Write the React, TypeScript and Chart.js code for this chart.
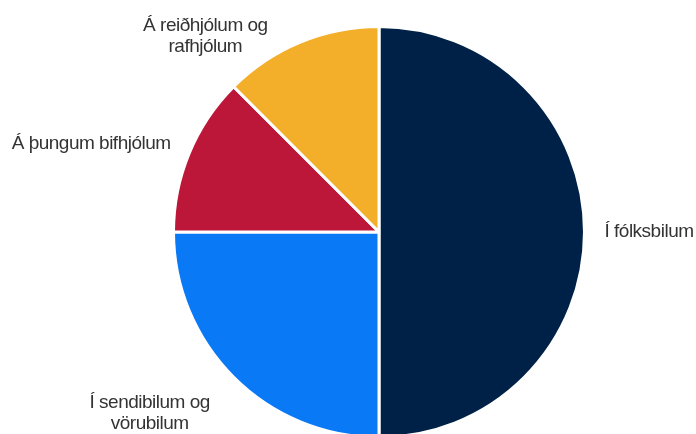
import React, { useEffect, useRef } from "react";
import { Chart, registerables } from "chart.js";

Chart.register(...registerables);

const categories: string[][] = [
  ["Í fólksbilum"],
  ["Í sendibilum og", "vörubilum"],
  ["Á þungum bifhjólum"],
  ["Á reiðhjólum og", "rafhjólum"],
];
const values: number[] = [50, 25, 12.5, 12.5];
const colors: string[] = ["#002147", "#0A79F6", "#BC1639", "#F3AF29"];

// label layout: offset of text anchor from the slice's outer mid-point, alignment
const labelLayout = [
  { dx: 20, dy: 5, align: "left" as CanvasTextAlign },
  { dx: -84, dy: 31, align: "center" as CanvasTextAlign },
  { dx: -98, dy: -4, align: "center" as CanvasTextAlign },
  { dx: -95, dy: -11, align: "center" as CanvasTextAlign },
];
const LINE_HEIGHT = 21;

const outsideLabels = {
  id: "outsideLabels",
  afterDatasetsDraw(chart: any) {
    const meta = chart.getDatasetMeta(0);
    const ctx: any = chart.ctx;
    ctx.save();
    ctx.font = "19px 'Liberation Sans', Arial, sans-serif";
    ctx.letterSpacing = "-0.5px";
    ctx.fillStyle = "#333333";
    ctx.textBaseline = "alphabetic";
    meta.data.forEach((arc: any, i: number) => {
      const p = arc.getProps(["x", "y", "startAngle", "endAngle", "outerRadius"], true);
      const mid = (p.startAngle + p.endAngle) / 2;
      const ox = p.x + Math.cos(mid) * p.outerRadius;
      const oy = p.y + Math.sin(mid) * p.outerRadius;
      const lay = labelLayout[i];
      ctx.textAlign = lay.align;
      categories[i].forEach((line, j) => {
        ctx.fillText(line, ox + lay.dx, oy + lay.dy + j * LINE_HEIGHT);
      });
    });
    ctx.restore();
  },
};

export default function App() {
  const ref = useRef<HTMLCanvasElement | null>(null);
  useEffect(() => {
    document.body.style.margin = "0";
    const chart = new Chart(ref.current as HTMLCanvasElement, {
      type: "pie",
      data: {
        labels: categories.map((c) => c.join(" ")),
        datasets: [
          {
            data: values,
            backgroundColor: colors,
            borderColor: "#ffffff",
            borderWidth: 3,
          },
        ],
      },
      options: {
        responsive: false,
        animation: false,
        layout: { padding: { left: 172, right: 110, top: 25, bottom: 1 } },
        plugins: {
          legend: { display: false },
          tooltip: { enabled: false },
        },
      },
      plugins: [outsideLabels],
    });
    return () => chart.destroy();
  }, []);
  return (
    <div style={{ position: "fixed", left: 0, top: 0, width: 696, height: 434, overflow: "hidden", background: "#fff" }}>
      <canvas ref={ref} width={696} height={440} style={{ display: "block" }} />
    </div>
  );
}
